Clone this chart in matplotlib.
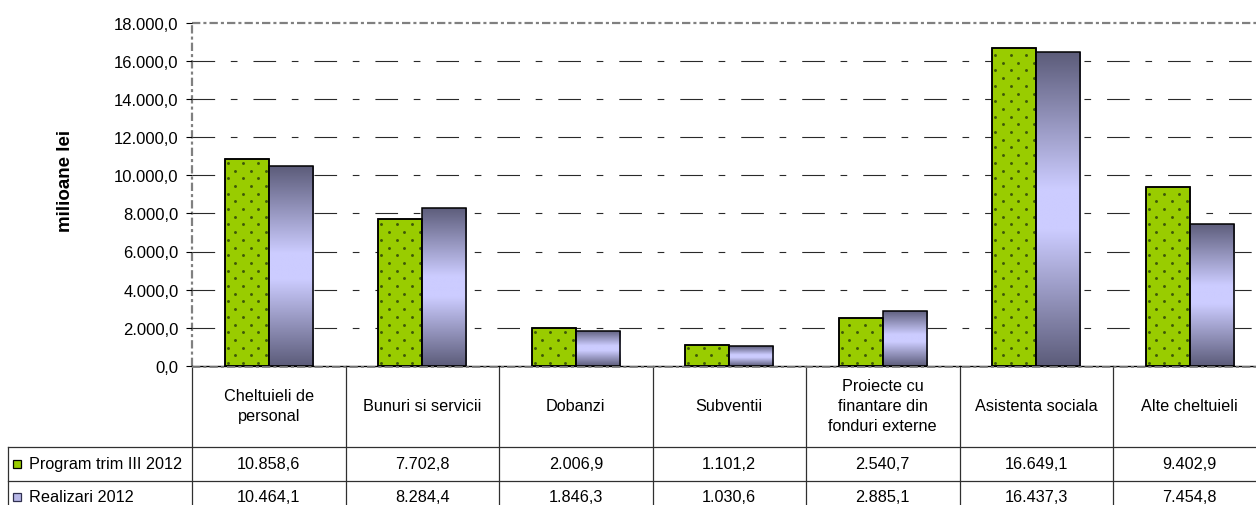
import numpy as np
import matplotlib
matplotlib.use("Agg")
import matplotlib.pyplot as plt
import matplotlib.transforms as mtransforms
from matplotlib.patches import Rectangle

plt.rcParams['font.family'] = ['Liberation Sans', 'DejaVu Sans']
plt.rcParams['lines.scale_dashes'] = False

# ---------------- data ----------------
categories = ["Cheltuieli de\npersonal", "Bunuri si servicii", "Dobanzi", "Subventii",
              "Proiecte cu\nfinantare din\nfonduri externe", "Asistenta sociala", "Alte cheltuieli"]
series_names = ["Program trim III 2012", "Realizari 2012"]
program = [10858.6, 7702.8, 2006.9, 1101.2, 2540.7, 16649.1, 9402.9]
realizari = [10464.1, 8284.4, 1846.3, 1030.6, 2885.1, 16437.3, 7454.8]
y_ticks = [0, 2000, 4000, 6000, 8000, 10000, 12000, 14000, 16000, 18000]
y_label = "milioane lei"


def ro(v):
    s = f"{v:,.1f}"
    return s.replace(",", "X").replace(".", ",").replace("X", ".")


W, H = 1256, 506
fig = plt.figure(figsize=(W / 100, H / 100), dpi=100)
fig.patch.set_facecolor("white")

ax_left, ax_right, ax_top, ax_bot = 192, 1266.5, 23.5, 367
ax = fig.add_axes([ax_left / W, 1 - ax_bot / H, (ax_right - ax_left) / W, (ax_bot - ax_top) / H])
n = len(categories)
ax.set_xlim(-0.5, n - 0.5)
ax.set_ylim(0, 18000)
for s in ax.spines.values():
    s.set_visible(False)
ax.set_facecolor("none")

# grid lines
dash = (0, (16.3, 11.3, 4.8, 11.5))
for yv in y_ticks[1:-1]:
    ax.axhline(yv, color="#2a2a2a", lw=0.8, linestyle=dash, zorder=1)

# plot border (dashed gray)
border_style = (0, (6, 2.2, 2.2, 2.2))
ax.plot([-0.5, n - 0.5], [18000, 18000], color="#808080", lw=1.6, linestyle=border_style,
        zorder=1, clip_on=False)
ax.plot([-0.5, -0.5], [0, 18000], color="#808080", lw=1.6, linestyle=border_style,
        zorder=1, clip_on=False)

# y ticks
ax.set_yticks(y_ticks)
ax.set_yticklabels([ro(v) for v in y_ticks], fontsize=12)
ax.tick_params(axis="y", direction="out", length=4.3, width=0.8, color="black", pad=5.5)
ax.set_xticks([])

bw = 0.287
x = np.arange(n)

# green dotted bars
green = "#99CC00"
for i, v in enumerate(program):
    r = Rectangle((x[i] - bw, 0), bw, v, facecolor=green, edgecolor="black", lw=1.1, zorder=3)
    ax.add_patch(r)
    # dot texture in pixel space
    (px0, py0) = ax.transData.transform((x[i] - bw, 0))
    (px1, py1) = ax.transData.transform((x[i], v))
    step = 7.7
    pts = []
    row = 0
    yy = py0 + 3
    while yy < py1:
        off = 3 if row % 2 == 0 else 3 + step
        xx = px0 + off
        while xx < px1:
            pts.append((xx, yy))
            xx += 2 * step
        yy += step
        row += 1
    if pts:
        d = ax.transData.inverted().transform(np.array(pts))
        ax.plot(d[:, 0], d[:, 1], linestyle="none", marker="o", markersize=2.1,
                markeredgewidth=0, color="#3f5a08", zorder=4, clip_path=r)
    r2 = Rectangle((x[i] - bw, 0), bw, v, facecolor="none", edgecolor="black", lw=1.1, zorder=5)
    ax.add_patch(r2)

# gradient bars
dark = np.array([0x5c, 0x5c, 0x7a]) / 255
light = np.array([0xcc, 0xcc, 0xff]) / 255
t = np.linspace(0, 1, 256)
prof = 1 - np.abs(t - 0.5) * 2
prof = np.clip(prof * 1.15, 0, 1)
grad = dark[None, :] + (light - dark)[None, :] * prof[:, None]
grad = grad[:, None, :]
for i, v in enumerate(realizari):
    r = Rectangle((x[i], 0), bw, v, facecolor="none", edgecolor="black", lw=1.1, zorder=5)
    ax.add_patch(r)
    im = ax.imshow(grad, extent=(x[i], x[i] + bw, 0, v), aspect="auto", origin="lower",
                   zorder=3, interpolation="bilinear")
    im.set_clip_path(r)

# category axis line
ax.plot([-0.5, n - 0.5], [0, 0], color="black", lw=1.0, zorder=6, clip_on=False)
ax.plot([-0.5, n - 0.5], [-60, -60], color="#808080", lw=1.3, linestyle=border_style,
        zorder=6, clip_on=False)

ax.set_xlim(-0.5, n - 0.5)
ax.set_ylim(0, 18000)

# y label
fig.text(66 / W, 1 - 181 / H, y_label, rotation=90, fontsize=13.5, fontweight="bold",
         ha="center", va="center")

# ---------------- data table ----------------
blend = mtransforms.blended_transform_factory(ax.transData, fig.transFigure)
def fy(py):
    return 1 - py / H

def fx(px):
    return px / W

head_top, head_bot, r1_bot, r2_bot = 367, 447.5, 481.5, 516
left_px = 8
x_left_data = ax.transData.inverted().transform((left_px, 0))[0]

line_kw = dict(color="#303030", lw=0.9, clip_on=False, transform=blend)
for k in range(n + 1):
    ax.plot([k - 0.5, k - 0.5], [fy(head_top), fy(r2_bot)], **line_kw)
for yy in (head_bot, r1_bot):
    ax.plot([x_left_data, n - 0.5], [fy(yy), fy(yy)], **line_kw)
ax.plot([x_left_data, x_left_data], [fy(head_bot), fy(r2_bot)], **line_kw)

tfs = 11.7
for i, c in enumerate(categories):
    ax.text(x[i], fy((head_top + head_bot) / 2 - 1), c, transform=blend, ha="center",
            va="center", fontsize=tfs, linespacing=1.4, clip_on=False)
    ax.text(x[i], fy((head_bot + r1_bot) / 2), ro(program[i]), transform=blend,
            ha="center", va="center", fontsize=tfs, clip_on=False)
    ax.text(x[i], fy((r1_bot + r2_bot) / 2 - 1), ro(realizari[i]), transform=blend,
            ha="center", va="center", fontsize=tfs, clip_on=False)

# legend keys in table
key_colors = [(green, "black"), ("#b8b8e8", "#303050")]
rows_c = [(head_bot + r1_bot) / 2, (r1_bot + r2_bot) / 2 - 1]
for (fc, ec), name, yc in zip(key_colors, series_names, rows_c):
    fig.patches.append(Rectangle((fx(13), fy(yc + 4)), 8 / W, 8 / H, facecolor=fc,
                                 edgecolor=ec, lw=0.9, transform=fig.transFigure, figure=fig))
    fig.text(fx(29), fy(yc), name, ha="left", va="center", fontsize=tfs)

fig.savefig("out.png", dpi=100, facecolor="white")
